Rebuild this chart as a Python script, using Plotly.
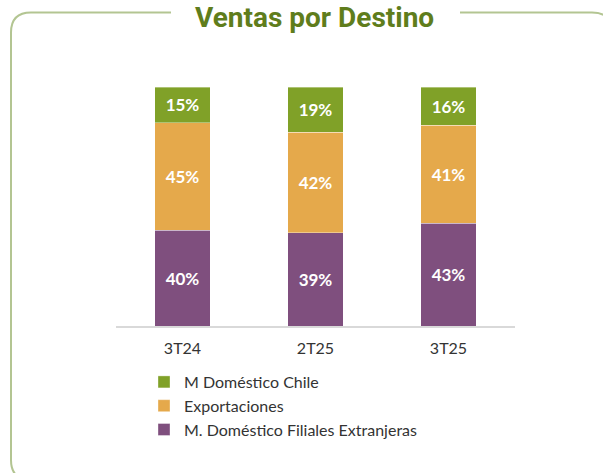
import plotly.graph_objects as go

categories = ["3T24", "2T25", "3T25"]
filiales = [40, 39, 43]
exportaciones = [45, 42, 41]
chile = [15, 19, 16]
series_names = ["M. Doméstico Filiales Extranjeras", "Exportaciones", "M Doméstico Chile"]
colors = ["#7f4f7e", "#e5a94b", "#80a128"]
title_text = "Ventas por Destino"

W, H = 603, 473
L, R, T, B = 116, 515, 87, 326

def px(x):
    return (x - L) / (R - L)

def py(y):
    return (B - y) / (B - T)

fig = go.Figure()
for name, vals, col in zip(series_names, [filiales, exportaciones, chile], colors):
    fig.add_trace(go.Bar(
        x=categories, y=vals, name=name,
        marker=dict(color=col, line=dict(width=0.8, color="rgba(255,255,255,0.45)")),
        text=[f"{v}%" for v in vals],
        textposition="inside", insidetextanchor="middle",
        textfont=dict(family="Lato", size=17, color="white", weight="bold"),
        constraintext="none",
        hoverinfo="skip",
    ))

# rounded frame with a gap for the title
r = 20
xl, xr, yt, yb = 11, 612, 12.5, 480
def P(x, y):
    return f"{px(x):.5f},{py(y):.5f}"
path = (
    f"M {P(171, yt)} L {P(xl + r, yt)} Q {P(xl, yt)} {P(xl, yt + r)} "
    f"L {P(xl, yb - r)} Q {P(xl, yb)} {P(xl + r, yb)} L {P(xr - r, yb)} "
    f"Q {P(xr, yb)} {P(xr, yb - r)} L {P(xr, yt + r)} Q {P(xr, yt)} {P(xr - r, yt)} "
    f"L {P(460, yt)}"
)
fig.add_shape(type="path", path=path, xref="paper", yref="paper",
              line=dict(color="#b3c592", width=2), fillcolor="rgba(0,0,0,0)", layer="above")

fig.add_annotation(text=title_text, x=px(314.5), y=py(17), xref="paper", yref="paper",
                   xanchor="center", yanchor="middle", showarrow=False,
                   font=dict(family="Roboto", size=28, color="#5f7d1c", weight="bold"))

fig.update_layout(
    width=W, height=H,
    margin=dict(l=L, r=W - R, t=T, b=H - B, pad=0),
    barmode="stack", bargap=0.58,
    paper_bgcolor="white", plot_bgcolor="white",
    showlegend=True,
    legend=dict(traceorder="reversed", orientation="v",
                x=px(144), y=py(365), xanchor="left", yanchor="top",
                font=dict(family="Lato", size=16, color="#333333"),
                bgcolor="rgba(0,0,0,0)", itemclick=False),
    xaxis=dict(showgrid=False, showline=True, linecolor="#d9d9d9", linewidth=1.5,
               ticks="", ticklabelstandoff=7,
               tickfont=dict(family="Lato", size=16, color="#333333"),
               fixedrange=True),
    yaxis=dict(range=[0, 100], visible=False, fixedrange=True),
)

fig.write_html("out.html", config={"displayModeBar": False},
               post_script="document.body.style.margin='0';document.body.style.overflow='hidden';")
